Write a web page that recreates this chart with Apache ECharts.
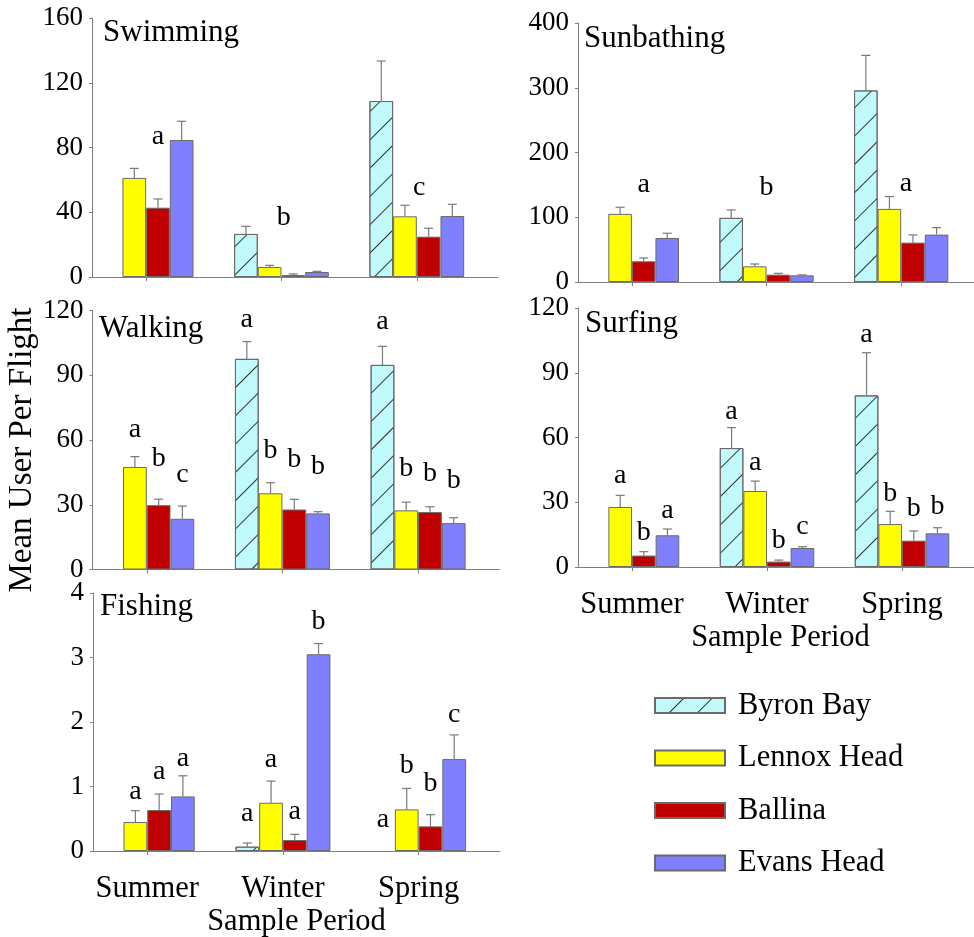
<!DOCTYPE html>
<html><head><meta charset="utf-8">
<script src="https://cdn.jsdelivr.net/npm/echarts@6/dist/echarts.min.js"></script>
<style>html,body{margin:0;padding:0;background:#fff}#c{width:974px;height:937px}</style>
</head><body><div id="c"></div>
<script>
const seasons = ['Summer', 'Winter', 'Spring'];
const sites = ['Byron Bay', 'Lennox Head', 'Ballina', 'Evans Head'];
const seasonX = [1, 2, 3];

// means and upper error bar ends: [site][season]
const swimmingMean  = [[0, 26.6, 108.7], [61.2, 6.2, 37.5], [42.8, 1.2, 24.9], [84.6, 3.1, 37.7]];
const swimmingUpper = [[0, 31.3, 133.4], [67.1, 7.2, 44.3], [48.2, 1.9, 30.1], [96.2, 3.5, 44.9]];
const swimmingLetters = [[0, 2, 87, 'a'], [1, 1.6, 36.4, 'b'], [2, 1.6, 55, 'c']];

const sunbathingMean  = [[0, 99, 295.9], [105.2, 24.2, 112.9], [32, 11.3, 60.8], [68, 10.3, 73.2]];
const sunbathingUpper = [[0, 111.3, 350], [115.5, 27.8, 132], [37.1, 13.4, 72.7], [75.3, 11, 84]];
const sunbathingLetters = [[0, 2, 150, 'a'], [1, 1.5, 145, 'b'], [2, 1.7, 152.5, 'a']];

const walkingMean  = [[0, 97.6, 94.8], [47.5, 35.3, 27.4], [29.8, 27.8, 26.6], [23.5, 26, 21.5]];
const walkingUpper = [[0, 105.6, 103.4], [52.3, 40.2, 31.2], [32.6, 32.5, 29.1], [29.4, 26.8, 24]];
const walkingLetters = [[0, 1, 64.6, 'a'], [0, 2, 51.5, 'b'], [0, 3, 43.8, 'c'],
  [1, 0, 115.7, 'a'], [1, 1, 54.9, 'b'], [1, 2, 51, 'b'], [1, 3, 47.6, 'b'],
  [2, 0, 114.9, 'a'], [2, 1, 46.9, 'b'], [2, 2, 44.5, 'b'], [2, 3, 41, 'b']];

const surfingMean  = [[0, 55.1, 79.5], [27.8, 35.2, 19.9], [5.3, 2.5, 12.2], [14.7, 8.8, 15.6]];
const surfingUpper = [[0, 64.6, 99.3], [33.2, 39.8, 25.8], [7.1, 3.2, 16.7], [17.6, 9.4, 18.2]];
const surfingLetters = [[0, 1, 42.5, 'a'], [0, 2, 16.1, 'b'], [0, 3, 26.1, 'a'],
  [1, 0, 71.8, 'a'], [1, 1, 48.2, 'a'], [1, 2, 12.4, 'b'], [1, 3, 18.8, 'c'],
  [2, 0, 107.6, 'a'], [2, 1, 34, 'b'], [2, 2, 26.9, 'b'], [2, 3, 28.1, 'b']];

const fishingMean  = [[0, 0.067, 0], [0.449, 0.748, 0.645], [0.635, 0.17, 0.382], [0.846, 3.05, 1.425]];
const fishingUpper = [[0, 0.124, 0], [0.625, 1.084, 0.97], [0.883, 0.258, 0.563], [1.166, 3.216, 1.8]];
const fishingLetters = [[0, 1, 0.92, 'a'], [0, 2, 1.23, 'a'], [0, 3, 1.43, 'a'],
  [1, 0, 0.58, 'a'], [1, 1, 1.41, 'a'], [1, 2, 0.61, 'a'], [1, 3, 3.55, 'b'],
  [2, 0, 0.49, 'a'], [2, 1, 1.32, 'b'], [2, 2, 1.05, 'b'], [2, 3, 2.12, 'c']];

const FONT = 'Liberation Serif';
const AXIS = '#7f7f7f';
const siteStyles = [
  { color: '#c0fafa', borderColor: '#6a6a6a', borderWidth: 1,
    decal: { symbol: 'rect', symbolSize: 1, dashArrayX: [1, 0], dashArrayY: [1, 19], rotation: -Math.PI / 4, color: '#333' } },
  { color: '#ffff00', borderColor: '#6a6a6a', borderWidth: 1 },
  { color: '#c00000', borderColor: '#6a6a6a', borderWidth: 1 },
  { color: '#8080ff', borderColor: '#6a6a6a', borderWidth: 1 }
];

const panels = [
  { name: 'Swimming', mean: swimmingMean, upper: swimmingUpper, letters: swimmingLetters, max: 160, interval: 40,
    grid: { left: 92, top: 18, width: 406, height: 259 }, title: { left: 103, top: 17 }, showX: false },
  { name: 'Sunbathing', mean: sunbathingMean, upper: sunbathingUpper, letters: sunbathingLetters, max: 400, interval: 100,
    grid: { left: 578, top: 23, width: 404, height: 259 }, title: { left: 584, top: 23 }, showX: false },
  { name: 'Walking', mean: walkingMean, upper: walkingUpper, letters: walkingLetters, max: 120, interval: 30,
    grid: { left: 92.5, top: 310.5, width: 407, height: 259 }, title: { left: 99, top: 313 }, showX: false },
  { name: 'Surfing', mean: surfingMean, upper: surfingUpper, letters: surfingLetters, max: 120, interval: 30,
    grid: { left: 578, top: 308, width: 405, height: 259 }, title: { left: 585, top: 308 }, showX: true },
  { name: 'Fishing', mean: fishingMean, upper: fishingUpper, letters: fishingLetters, max: 4, interval: 1,
    grid: { left: 93, top: 593, width: 407, height: 258 }, title: { left: 100, top: 591 }, showX: true }
];

const barOffset = b => -0.35 + (b + 0.5) * 0.175;

const grids = [], xAxes = [], yAxes = [], series = [], titles = [];
panels.forEach((p, gi) => {
  grids.push(Object.assign({ containLabel: false, outerBoundsMode: 'none' }, p.grid));
  titles.push({ text: p.name, left: p.title.left, top: p.title.top, padding: 0,
    textStyle: { fontFamily: FONT, fontSize: 31, fontWeight: 'normal', color: '#000' } });
  xAxes.push({
    type: 'value', gridIndex: gi, min: 0.6, max: 3.6,
    axisLine: { show: true, onZero: false, lineStyle: { color: AXIS, width: 1 } },
    axisTick: { show: true, customValues: seasonX, length: 4, lineStyle: { color: AXIS } },
    axisLabel: { show: p.showX, customValues: seasonX, margin: 22,
      formatter: v => seasons[Math.round(v) - 1] || '',
      fontFamily: FONT, fontSize: 30.5, color: '#000' },
    splitLine: { show: false },
    name: p.showX ? 'Sample Period' : '', nameLocation: 'middle', nameGap: 55,
    nameTextStyle: { fontFamily: FONT, fontSize: 30.5, color: '#000' }
  });
  yAxes.push({
    type: 'value', gridIndex: gi, min: 0, max: p.max, interval: p.interval,
    axisLine: { show: true, onZero: false, lineStyle: { color: AXIS, width: 1 } },
    axisTick: { show: true, length: 3, lineStyle: { color: AXIS } },
    axisLabel: { margin: 9, fontFamily: FONT, fontSize: 27, color: '#000' },
    splitLine: { show: false }
  });
  sites.forEach((s, si) => {
    series.push({
      type: 'bar', name: s, xAxisIndex: gi, yAxisIndex: gi,
      barCategoryGap: '30%', barGap: '0%',
      itemStyle: siteStyles[si],
      emphasis: { disabled: true },
      // a zero mean has no visible bar
      data: seasonX.map((x, k) => [x, p.mean[si][k] > 0 ? p.mean[si][k] : '-'])
    });
  });
  const errData = [];
  sites.forEach((s, si) => seasonX.forEach((x, k) => {
    errData.push([x, barOffset(si), p.mean[si][k], p.upper[si][k]]);
  }));
  series.push({
    type: 'custom', xAxisIndex: gi, yAxisIndex: gi, z: 5, silent: true,
    encode: { x: 0, y: 3 },
    data: errData,
    renderItem: (params, api) => {
      const x = api.value(0) + api.value(1);
      const m = api.value(2), u = api.value(3);
      if (!(u > m)) return null;
      const p0 = api.coord([x, m]), p1 = api.coord([x, u]);
      const st = { stroke: '#7a7a7a', lineWidth: 1.2 };
      return { type: 'group', children: [
        { type: 'line', shape: { x1: p0[0], y1: p0[1], x2: p1[0], y2: p1[1] }, style: st },
        { type: 'line', shape: { x1: p1[0] - 4.5, y1: p1[1], x2: p1[0] + 4.5, y2: p1[1] }, style: st }
      ] };
    }
  });
  series.push({
    type: 'scatter', xAxisIndex: gi, yAxisIndex: gi, z: 6, silent: true,
    symbolSize: 1, itemStyle: { color: 'rgba(0,0,0,0)', opacity: 1 },
    data: p.letters.map(l => [seasonX[l[0]] + barOffset(l[1]), l[2], l[3]]),
    label: { show: true, position: 'inside', formatter: q => q.value[2],
      fontFamily: FONT, fontSize: 28, color: '#000', opacity: 1, textBorderWidth: 0,
      verticalAlign: 'middle', align: 'center' }
  });
});

const chart = echarts.init(document.getElementById('c'), null, { renderer: 'canvas' });
chart.setOption({
  animation: false,
  backgroundColor: '#fff',
  textStyle: { fontFamily: FONT },
  title: titles,
  grid: grids,
  xAxis: xAxes,
  yAxis: yAxes,
  legend: {
    data: sites, orient: 'vertical', left: 649, top: 685, itemWidth: 70, itemHeight: 15,
    itemGap: 21.5, icon: 'rect', selectedMode: false,
    textStyle: { fontFamily: FONT, fontSize: 30.5, color: '#000', lineHeight: 29, padding: [0, 0, 0, 8] }
  },
  graphic: [{
    type: 'text', x: 22, y: 450, rotation: Math.PI / 2,
    style: { text: 'Mean User Per Flight', fontFamily: FONT, fontSize: 33, fill: '#000',
      align: 'center', verticalAlign: 'middle' }
  }],
  series: series
});
</script>
</body></html>
